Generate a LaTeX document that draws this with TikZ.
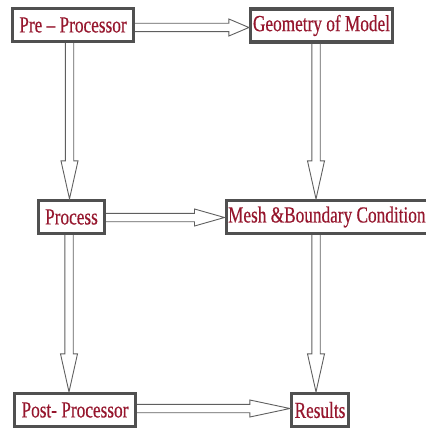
\documentclass[tikz,border=0pt]{standalone}
\usepackage{fontspec}
\usetikzlibrary{calc}
\newfontfamily\boxfont[FakeStretch=0.75, FakeBold=0.4]{Liberation Serif}
\definecolor{boxred}{RGB}{150,22,45}
\definecolor{boxedge}{RGB}{80,80,80}
\definecolor{arrowgray}{RGB}{95,95,95}
\tikzset{
  head len/.store in=\headlen,
  head len=30pt,
  stage/.style={draw=boxedge, line width=3.2pt, fill=white, text=boxred,
    font=\boxfont\fontsize{23}{23}\selectfont, inner sep=0pt,
    minimum height=33pt},
  dblarrow/.style={draw=arrowgray, line width=0.9pt, to path={
      ($(\tikztostart)!4.2pt!90:(\tikztotarget)$)
      -- ($(\tikztotarget)!\headlen!(\tikztostart)!4.2pt!-90:(\tikztostart)$)
      -- ($(\tikztotarget)!\headlen!(\tikztostart)!8.5pt!-90:(\tikztostart)$)
      -- (\tikztotarget)
      -- ($(\tikztotarget)!\headlen!(\tikztostart)!8.5pt!90:(\tikztostart)$)
      -- ($(\tikztotarget)!\headlen!(\tikztostart)!4.2pt!90:(\tikztostart)$)
      -- ($(\tikztostart)!4.2pt!-90:(\tikztotarget)$) \tikztonodes}},
}
\begin{document}
\begin{tikzpicture}[
    x = 1pt,
    y = -1pt,
    ]
    \useasboundingbox (0,0) rectangle (425,430);
    % stages
    \node[stage, minimum width=121pt] (pre) at (73,25) {Pre \textendash{} Processor};
    \node[stage, minimum width=142pt] (geo) at (321.5,25.5) {Geometry of Model};
    \node[stage, minimum width=66pt] (proc) at (71.5,217) {Process};
    \node[stage, anchor=west, inner xsep=2pt] (mesh) at (224.5,217) {Mesh \&Boundary Condition};
    \node[stage, minimum width=121pt] (post) at (75,410) {Post- Processor};
    \node[stage, minimum width=57pt] (res) at (320,410) {Results};
    % arrow ends
    \coordinate (pre-out) at ([yshift=-2.5pt]pre.east);
    \coordinate (geo-in) at (geo.west |- pre-out);
    \coordinate (proc-out) at ([yshift=-0.5pt]proc.east);
    \coordinate (mesh-in) at (mesh.west |- proc-out);
    \coordinate (post-out) at ([yshift=1.5pt]post.east);
    \coordinate (res-in) at (res.west |- post-out);
    \coordinate (pre-down) at ([xshift=-3.5pt]pre.south);
    \coordinate (proc-top) at (pre-down |- proc.north);
    \coordinate (geo-down) at ([xshift=-5.5pt]geo.south);
    \coordinate (mesh-top) at (geo-down |- mesh.north);
    \coordinate (proc-down) at ([xshift=-2.5pt]proc.south);
    \coordinate (post-top) at (proc-down |- post.north);
    \coordinate (mesh-down) at (geo-down |- mesh.south);
    \coordinate (res-top) at (mesh-down |- res.north);
    % horizontal arrows
    \draw[dblarrow, head len=20pt] (pre-out) to (geo-in);
    \draw[dblarrow, head len=30pt] (proc-out) to (mesh-in);
    \draw[dblarrow, head len=40pt] (post-out) to (res-in);
    % vertical arrows
    \draw[dblarrow, head len=38pt] (pre-down) to (proc-top);
    \draw[dblarrow, head len=38pt] (geo-down) to (mesh-top);
    \draw[dblarrow, head len=38pt] (proc-down) to (post-top);
    \draw[dblarrow, head len=38pt] (mesh-down) to (res-top);
  \end{tikzpicture}
\end{document}
